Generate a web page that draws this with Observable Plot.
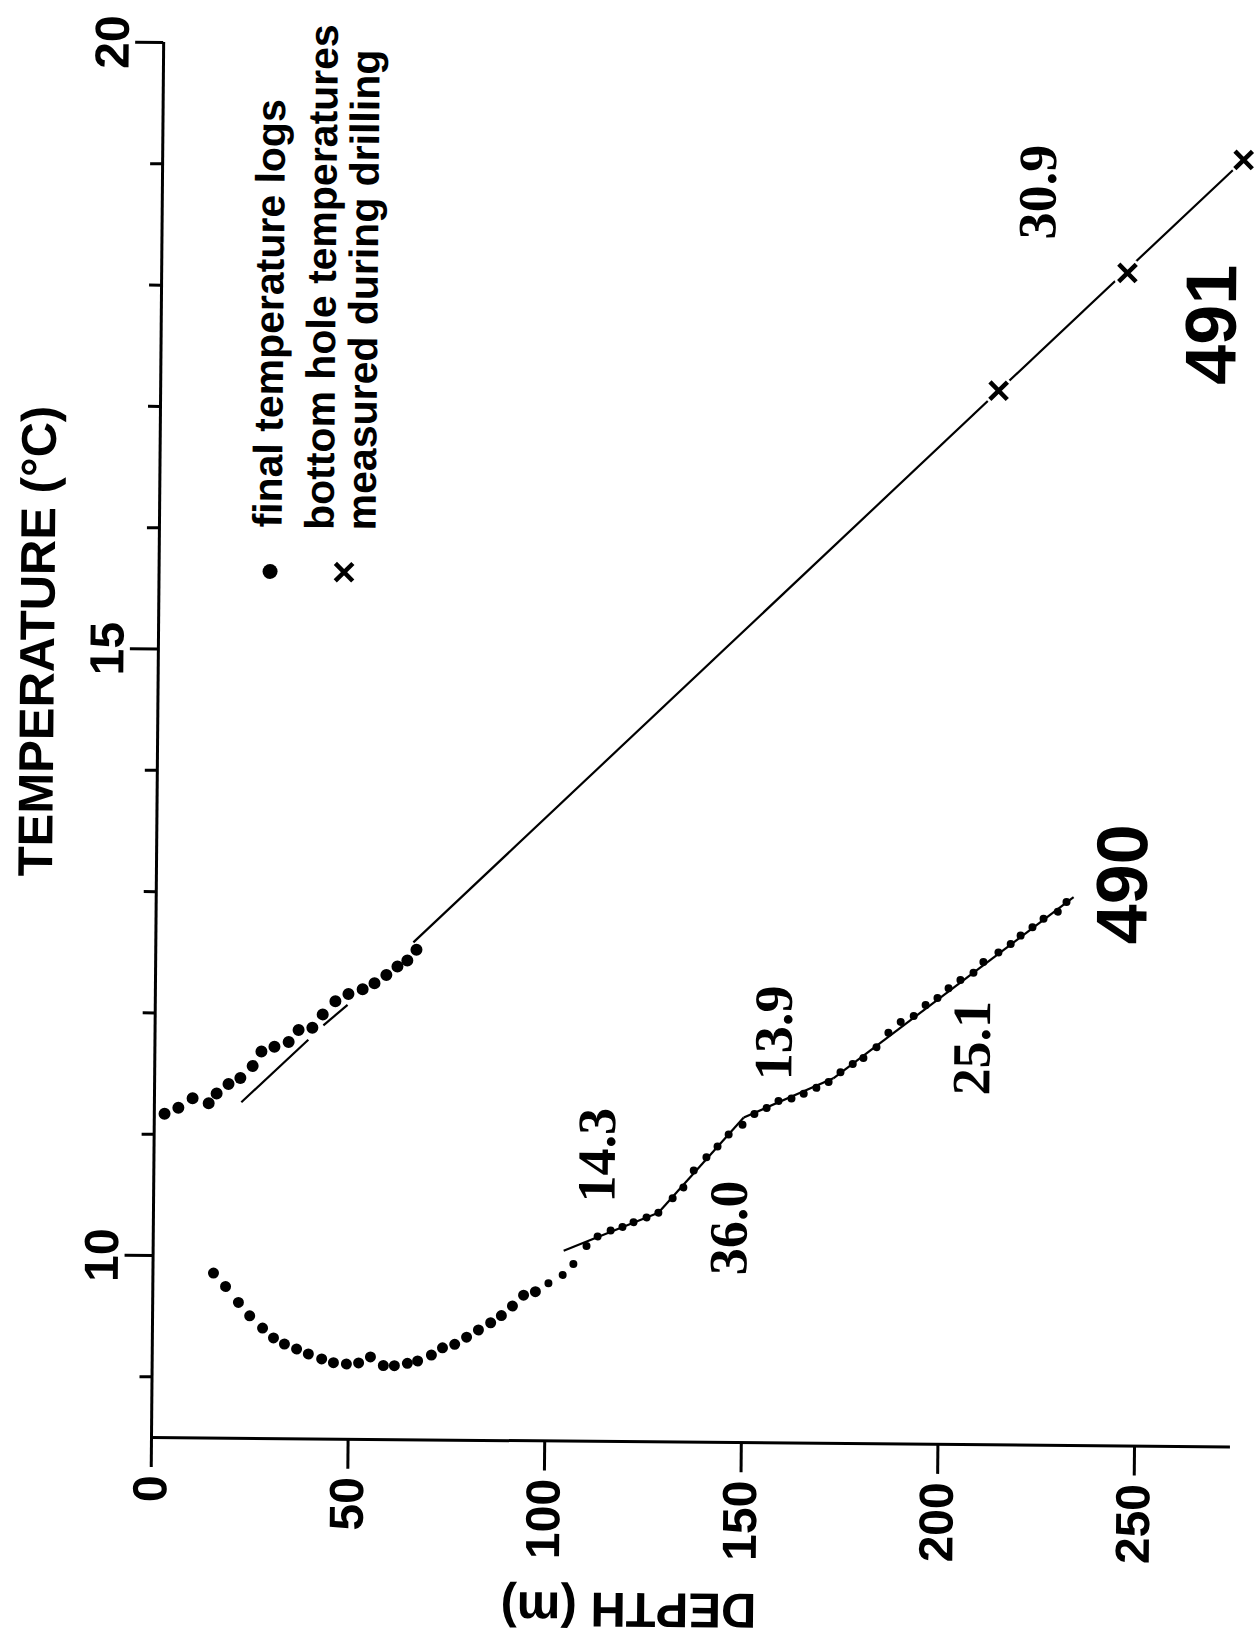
<!DOCTYPE html>
<html>
<head>
<meta charset="utf-8">
<script src="https://cdn.jsdelivr.net/npm/d3@7"></script>
<script src="https://cdn.jsdelivr.net/npm/@observablehq/plot@0.6"></script>
<style>
  html, body { margin: 0; padding: 0; background: #fff; }
  #chart { position: relative; width: 1257px; height: 1642px; overflow: hidden; background: #fff; }
  #chart svg { display: block; transform-origin: 151px 1437px; transform: rotate(0.5deg); }
</style>
</head>
<body>
<div id="chart"></div>
<script>
// ---- Data (depth in m, temperature in °C) ----
// Hole 491: final temperature log
const depth491 = [2.6, 6.1, 9.7, 13.8, 15.8, 18.8, 21.8, 24.9, 27.1, 30.4, 34.0, 36.5, 40.0, 42.6, 45.8, 49.1, 52.7, 55.7, 58.7, 61.5, 64.0, 66.3];
const temp491  = [11.17, 11.22, 11.30, 11.26, 11.34, 11.42, 11.47, 11.57, 11.69, 11.73, 11.77, 11.87, 11.89, 12.00, 12.11, 12.17, 12.21, 12.26, 12.33, 12.40, 12.45, 12.54];

// Hole 491: bottom hole temperatures measured during drilling
const depthBHT491 = [213.1, 245.6, 274.9];
const tempBHT491  = [17.19, 18.17, 19.11];

// Hole 490: final temperature log
const depth490 = [15.4, 18.5, 21.8, 24.7, 28.0, 30.8, 33.6, 36.7, 39.7, 43.1, 46.1, 49.4, 52.5, 55.5, 58.8, 61.6, 64.9, 67.5, 71.0, 73.8, 76.9, 79.9, 82.9, 86.0, 88.7, 91.5, 94.3, 97.3, 100.6, 104.2, 106.9, 110.2, 113.0, 116.3, 119.3, 122.1, 125.4, 128.4, 132.0, 134.7, 137.3, 140.5, 143.3, 146.1, 149.6, 152.6, 155.7, 158.7, 162.0, 165.1, 168.3, 171.4, 174.4, 177.5, 180.2, 183.5, 186.5, 189.6, 192.9, 195.9, 198.9, 201.7, 204.7, 208.0, 210.5, 214.3, 217.4, 219.9, 222.9, 225.7, 229.3, 231.5];
const temp490  = [9.86, 9.75, 9.62, 9.51, 9.41, 9.33, 9.28, 9.24, 9.20, 9.16, 9.13, 9.12, 9.13, 9.18, 9.11, 9.11, 9.13, 9.15, 9.20, 9.26, 9.29, 9.35, 9.41, 9.47, 9.53, 9.61, 9.70, 9.73, 9.80, 9.87, 9.96, 10.11, 10.19, 10.24, 10.27, 10.31, 10.35, 10.39, 10.51, 10.60, 10.74, 10.85, 10.94, 11.04, 11.12, 11.21, 11.26, 11.32, 11.34, 11.38, 11.43, 11.48, 11.56, 11.63, 11.68, 11.77, 11.89, 11.98, 12.03, 12.12, 12.18, 12.26, 12.33, 12.39, 12.48, 12.56, 12.63, 12.70, 12.77, 12.84, 12.90, 12.98];

// Gradient fit segments
const fitHole       = ["491", "491", "491", "490", "490", "490", "490"];
const fitDepthStart = [22.1, 42.8, 65.5, 104.4, 128.4, 149.9, 172.6];
const fitTempStart  = [11.27, 11.91, 12.60, 10.07, 10.39, 11.18, 11.51];
const fitDepthEnd   = [39.0, 48.9, 274.9, 128.4, 149.9, 172.6, 233.3];
const fitTempEnd    = [11.79, 12.08, 19.11, 10.39, 11.18, 11.51, 13.02];

// Gradient labels (°C/km)
const gradLabels = ["14.3", "36.0", "13.9", "25.1", "30.9"];
const gradDepth  = [112.8, 146.5, 157.5, 207.9, 222.8];
const gradTemp   = [10.86, 10.27, 11.88, 11.77, 18.83];

// Hole labels
const holeLabels = ["490", "491"];
const holeDepth  = [246.0, 267.4];
const holeTemp   = [13.13, 17.75];

// Axes
const depthTicks     = [0, 50, 100, 150, 200, 250];
const tempMajorTicks = [10, 15, 20];
const tempMinorTicks = [9, 11, 12, 13, 14, 16, 17, 18, 19];
const depthDomain = [0, 274.4];
const tempDomain  = [8.5, 20];

const legendItems = ["final temperature logs", "bottom hole temperatures", "measured during drilling"];

// ---- Build tables ----
const log490 = depth490.map((d, i) => ({depth: d, temp: temp490[i]}));
const log491 = depth491.map((d, i) => ({depth: d, temp: temp491[i]}));
const bht491 = depthBHT491.map((d, i) => ({depth: d, temp: tempBHT491[i]}));
const fits = fitHole.map((h, i) => ({hole: h, d0: fitDepthStart[i], t0: fitTempStart[i], d1: fitDepthEnd[i], t1: fitTempEnd[i]}));
const grads = gradLabels.map((g, i) => ({label: g, depth: gradDepth[i], temp: gradTemp[i]}));
const holes = holeLabels.map((h, i) => ({label: h, depth: holeDepth[i], temp: holeTemp[i]}));

const sans = "'Liberation Sans', Arial, Helvetica, sans-serif";
const serif = "'Liberation Serif', 'Times New Roman', serif";

const chart = Plot.plot({
  width: 1257,
  height: 1642,
  marginLeft: 151,
  marginTop: 42,
  marginRight: 27,
  marginBottom: 205,
  x: {domain: depthDomain},
  y: {domain: tempDomain},
  style: {fontFamily: sans, color: "#000", background: "#fff", overflow: "visible"},
  marks: [
    // axis lines
    Plot.ruleX([0], {stroke: "#000", strokeWidth: 3}),
    Plot.ruleY([8.5], {stroke: "#000", strokeWidth: 3}),
    // depth axis
    Plot.axisX({ticks: depthTicks, tickSize: 30, tickPadding: 8, tickRotate: -90,
      fontSize: 48, fontWeight: "bold", fontFamily: sans, strokeWidth: 3, label: null}),
    // temperature axis
    Plot.axisY({ticks: tempMinorTicks, tickSize: 12, tickFormat: () => "", strokeWidth: 3, label: null}),
    Plot.axisY({ticks: tempMajorTicks, tickSize: 28, tickPadding: 7, tickRotate: -90,
      fontSize: 48, fontWeight: "bold", fontFamily: sans, strokeWidth: 3, label: null}),
    // axis titles
    Plot.text(["TEMPERATURE (°C)"], {frameAnchor: "left", dx: -120, dy: -98, rotate: -90,
      textAnchor: "middle", lineAnchor: "middle",
      fontSize: 49, fontWeight: "bold", fontFamily: sans}),
    Plot.text(["DEPTH (m)"], {frameAnchor: "bottom", dx: -61, dy: 167, rotate: 180,
      textAnchor: "middle", lineAnchor: "middle",
      fontSize: 49, fontWeight: "bold", fontFamily: sans}),

    // fit lines
    Plot.link(fits, {x1: "d0", y1: "t0", x2: "d1", y2: "t1", stroke: "#000", strokeWidth: 2.2}),

    // bottom hole temperatures (white halo + cross)
    Plot.dot(bht491, {x: "depth", y: "temp", r: 15, fill: "#fff", stroke: "none"}),
    Plot.dot(bht491, {x: "depth", y: "temp", symbol: "times", r: 8, stroke: "#000", strokeWidth: 4.5}),

    // final temperature logs
    Plot.dot(log491, {x: "depth", y: "temp", r: 6, fill: "#000"}),
    Plot.dot(log490, {x: "depth", y: "temp", r: 5.5, fill: "#000", filter: d => d.depth < 100}),
    Plot.dot(log490, {x: "depth", y: "temp", r: 4, fill: "#000", filter: d => d.depth >= 100}),

    // gradient labels
    Plot.text(grads, {x: "depth", y: "temp", text: "label", rotate: -90,
      fontSize: 54, fontWeight: "bold", fontFamily: serif}),
    // hole labels
    Plot.text(holes, {x: "depth", y: "temp", text: "label", rotate: -90,
      fontSize: 72, fontWeight: "bold", fontFamily: sans}),

    // legend
    Plot.dot([legendItems[0]], {frameAnchor: "top-left", dx: 111, dy: 528, r: 7.5, fill: "#000"}),
    Plot.dot([legendItems[1]], {frameAnchor: "top-left", dx: 185, dy: 528, symbol: "times", r: 8, stroke: "#000", strokeWidth: 4.5}),
    Plot.text([legendItems[0]], {frameAnchor: "top-left", dx: 109, dy: 484, rotate: -90,
      textAnchor: "start", lineAnchor: "middle", fontSize: 41, fontWeight: "bold", fontFamily: sans}),
    Plot.text([legendItems[1]], {frameAnchor: "top-left", dx: 161, dy: 486, rotate: -90,
      textAnchor: "start", lineAnchor: "middle", fontSize: 41, fontWeight: "bold", fontFamily: sans}),
    Plot.text([legendItems[2]], {frameAnchor: "top-left", dx: 203, dy: 486, rotate: -90,
      textAnchor: "start", lineAnchor: "middle", fontSize: 41, fontWeight: "bold", fontFamily: sans})
  ]
});

document.getElementById("chart").appendChild(chart);
</script>
</body>
</html>
